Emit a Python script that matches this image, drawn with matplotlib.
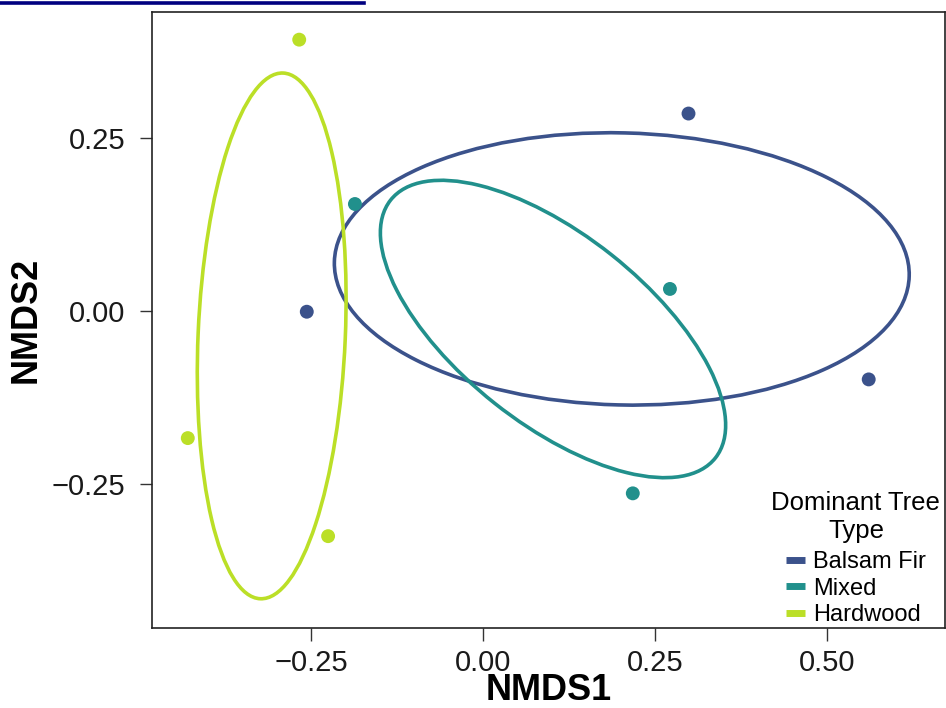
import matplotlib
matplotlib.use("Agg")
import matplotlib.pyplot as plt
from matplotlib.patches import Ellipse
from matplotlib.lines import Line2D

plt.rcParams['font.family'] = ['Liberation Sans', 'DejaVu Sans']

# site scores
groups = ['Balsam Fir', 'Mixed', 'Hardwood']
colours = ['#3B528B', '#21908C', '#BBDF27']

fir_x = [0.299, -0.256, 0.561]
fir_y = [0.286, -0.001, -0.099]
mixed_x = [-0.186, 0.272, 0.218]
mixed_y = [0.155, 0.032, -0.264]
hard_x = [-0.267, -0.429, -0.225]
hard_y = [0.393, -0.184, -0.326]

# ellipses: centre x, centre y, half major axis, half minor axis, angle (deg)
ell_cx = [0.202, 0.102, -0.307]
ell_cy = [0.061, -0.026, -0.036]
ell_a = [0.418, 0.301, 0.381]
ell_b = [0.197, 0.137, 0.107]
ell_ang = [-1.4, -38.3, 87.5]

xticks = [-0.25, 0.0, 0.25, 0.5]
yticks = [-0.25, 0.0, 0.25]

fig = plt.figure(figsize=(9.46, 7.08), dpi=100)
ax = fig.add_axes([0.1607, 0.113, 0.8383, 0.870])

xs = [fir_x, mixed_x, hard_x]
ys = [fir_y, mixed_y, hard_y]
for i in range(len(groups)):
    ax.scatter(xs[i], ys[i], s=100, color=colours[i], edgecolors='none', zorder=3)
    e = Ellipse((ell_cx[i], ell_cy[i]), 2 * ell_a[i], 2 * ell_b[i], angle=ell_ang[i],
                fill=False, edgecolor=colours[i], linewidth=2.6, zorder=2)
    ax.add_patch(e)

ax.set_xlim(-0.481, 0.672)
ax.set_ylim(-0.459, 0.433)
ax.set_xticks(xticks)
ax.set_yticks(yticks)
ax.set_xticklabels(['\u22120.25', '0.00', '0.25', '0.50'])
ax.set_yticklabels(['\u22120.25', '0.00', '0.25'])
ax.tick_params(axis='both', length=9, width=1, color='#333333', labelsize=21,
               labelcolor='#1a1a1a')
ax.tick_params(axis='x', pad=6)
ax.tick_params(axis='y', pad=10)
for sp in ax.spines.values():
    sp.set_color('#222222')
    sp.set_linewidth(1.2)

ax.set_xlabel('NMDS1', fontsize=26, fontweight='bold', labelpad=-3)
ax.set_ylabel('NMDS2', fontsize=26, fontweight='bold', labelpad=6)

handles = [Line2D([0], [0], color=c, linewidth=5, solid_capstyle='butt') for c in colours]
leg = ax.legend(handles, groups, title='Dominant Tree\nType', loc='lower right',
                frameon=False, fontsize=17, title_fontsize=18.5, handlelength=0.8,
                handletextpad=0.35, labelspacing=0.2, borderaxespad=0.0,
                borderpad=0.2, bbox_to_anchor=(1.0, -0.005))
leg.get_title().set_multialignment('center')
leg._legend_box.align = 'center'
leg._legend_box.sep = 6

# underline artefact at top left of the screenshot
fig.add_artist(Line2D([0, 0.385], [0.9955, 0.9955], color='#000080', linewidth=2.6,
                      transform=fig.transFigure))

fig.savefig('out.png', dpi=100)
